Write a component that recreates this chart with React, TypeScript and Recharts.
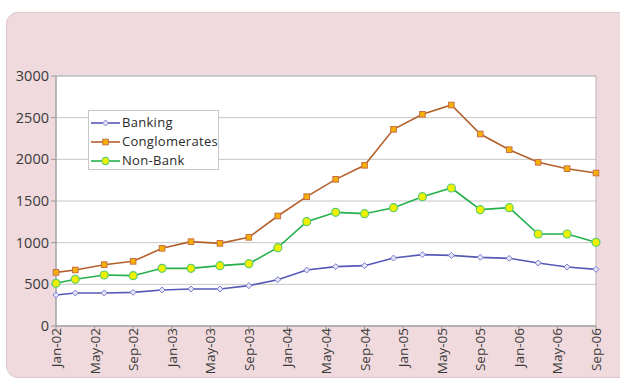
import React from "react";
import {
  LineChart,
  Line,
  XAxis,
  YAxis,
  CartesianGrid,
  ReferenceArea,
} from "recharts";

// month index from Jan-02
const months = [0, 2, 5, 8, 11, 14, 17, 20, 23, 26, 29, 32, 35, 38, 41, 44, 47, 50, 53, 56];
const banking = [372, 396, 396, 404, 432, 444, 444, 484, 556, 672, 712, 724, 816, 856, 848, 824, 812, 756, 708, 680];
const conglomerates = [644, 672, 736, 776, 932, 1012, 992, 1064, 1320, 1552, 1760, 1928, 2360, 2540, 2652, 2304, 2116, 1964, 1888, 1836];
const nonBank = [512, 560, 612, 604, 692, 692, 724, 748, 940, 1252, 1364, 1348, 1420, 1552, 1656, 1396, 1420, 1104, 1104, 1004];

const xTickValues = [0, 4, 8, 12, 16, 20, 24, 28, 32, 36, 40, 44, 48, 52, 56];
const xTickLabels = [
  "Jan-02", "May-02", "Sep-02", "Jan-03", "May-03", "Sep-03", "Jan-04", "May-04",
  "Sep-04", "Jan-05", "May-05", "Sep-05", "Jan-06", "May-06", "Sep-06",
];
const yTicks = [0, 500, 1000, 1500, 2000, 2500, 3000];

const data = months.map((m, i) => ({
  m,
  Banking: banking[i],
  Conglomerates: conglomerates[i],
  "Non-Bank": nonBank[i],
}));

const FONT = "'Open Sans', sans-serif";
const BLUE = "#5559b5";
const BROWN = "#b4602c";
const GREEN = "#25b04c";

const DiamondDot = (props: any) => {
  const { cx, cy } = props;
  if (cx == null || cy == null) return null;
  const r = 3;
  return (
    <path
      d={`M${cx},${cy - r}L${cx + r},${cy}L${cx},${cy + r}L${cx - r},${cy}Z`}
      fill="#e4e4f6"
      stroke="#7a7ed0"
      strokeWidth={1}
    />
  );
};

const SquareDot = (props: any) => {
  const { cx, cy } = props;
  if (cx == null || cy == null) return null;
  const s = 2.8;
  return (
    <rect x={cx - s} y={cy - s} width={s * 2} height={s * 2} fill="#f6b000" stroke="#c8704a" strokeWidth={1} />
  );
};

const CircleDot = (props: any) => {
  const { cx, cy } = props;
  if (cx == null || cy == null) return null;
  return <circle cx={cx} cy={cy} r={4} fill="#eef000" stroke="#5ccc70" strokeWidth={1.2} />;
};

const XTick = (props: any) => {
  const { x, payload } = props;
  const idx = xTickValues.indexOf(payload.value);
  const label = idx >= 0 ? xTickLabels[idx] : "";
  return (
    <text
      x={0}
      y={0}
      transform={`translate(${x + 5},328) rotate(-90)`}
      textAnchor="end"
      fontFamily={FONT}
      fontSize={13.5}
      fill="#3a3a3a"
    >
      {label}
    </text>
  );
};

const legendItems = [
  { name: "Banking", color: BLUE, dot: "diamond" },
  { name: "Conglomerates", color: BROWN, dot: "square" },
  { name: "Non-Bank", color: GREEN, dot: "circle" },
];

const LegendBox = () => (
  <div
    style={{
      position: "absolute",
      left: 88,
      top: 110,
      border: "1px solid #c8c8c8",
      background: "#fff",
      width: 131,
      height: 60,
      boxSizing: "border-box",
      padding: "2px 0 0 2px",
    }}
  >
    {legendItems.map((it) => (
      <div key={it.name} style={{ display: "flex", alignItems: "center", height: 19 }}>
        <svg width={30} height={10} style={{ marginRight: 1 }}>
          <line x1={0} y1={5} x2={29} y2={5} stroke={it.color} strokeWidth={1.6} />
          {it.dot === "diamond" && (
            <path d="M14.5,2L17.5,5L14.5,8L11.5,5Z" fill="#e4e4f6" stroke="#7a7ed0" strokeWidth={1} />
          )}
          {it.dot === "square" && (
            <rect x={11.7} y={2.2} width={5.6} height={5.6} fill="#f6b000" stroke="#c8704a" strokeWidth={1} />
          )}
          {it.dot === "circle" && (
            <circle cx={14.5} cy={5} r={3.6} fill="#eef000" stroke="#5ccc70" strokeWidth={1.1} />
          )}
        </svg>
        <span style={{ fontFamily: FONT, fontSize: 13, color: "#2a2a2a", letterSpacing: 0.3, lineHeight: "19px" }}>{it.name}</span>
      </div>
    ))}
  </div>
);

export default function App() {
  return (
    <div style={{ position: "absolute", left: 0, top: 0, width: 620, height: 381, background: "#fff", overflow: "hidden" }}>
      <div
        style={{
          position: "absolute",
          left: 6,
          top: 12,
          width: 640,
          height: 366,
          background: "#f0dadd",
          border: "1px solid #dcc6c9",
          borderRadius: 12,
          boxSizing: "border-box",
        }}
      />
      <div style={{ position: "absolute", left: 0, top: 0 }}>
        <LineChart
          width={620}
          height={381}
          data={data}
          margin={{ top: 76, right: 24, bottom: 0, left: 6 }}
        >
          <CartesianGrid horizontal vertical={false} stroke="#c6c6c6" fill="#ffffff" />
          <ReferenceArea x1={0} x2={56} y1={0} y2={3000} fill="none" stroke="#b8b8b8" strokeWidth={1} />
          <XAxis
            dataKey="m"
            type="number"
            domain={[0, 56]}
            ticks={xTickValues}
            interval={0}
            height={55}
            tick={<XTick />}
            tickSize={5}
            tickLine={{ stroke: "#999" }}
            axisLine={{ stroke: "#999" }}
          />
          <YAxis
            type="number"
            domain={[0, 3000]}
            ticks={yTicks}
            interval={0}
            width={50}
            tickSize={5}
            tickMargin={2}
            tickLine={{ stroke: "#999" }}
            axisLine={{ stroke: "#999" }}
            tick={{ fontFamily: FONT, fontSize: 14.5, fill: "#3a3a3a" }}
          />
          <Line
            type="linear"
            dataKey="Banking"
            stroke={BLUE}
            strokeWidth={1.6}
            dot={<DiamondDot />}
            isAnimationActive={false}
          />
          <Line
            type="linear"
            dataKey="Conglomerates"
            stroke={BROWN}
            strokeWidth={1.6}
            dot={<SquareDot />}
            isAnimationActive={false}
          />
          <Line
            type="linear"
            dataKey="Non-Bank"
            stroke={GREEN}
            strokeWidth={1.6}
            dot={<CircleDot />}
            isAnimationActive={false}
          />
        </LineChart>
      </div>
      <LegendBox />
    </div>
  );
}
